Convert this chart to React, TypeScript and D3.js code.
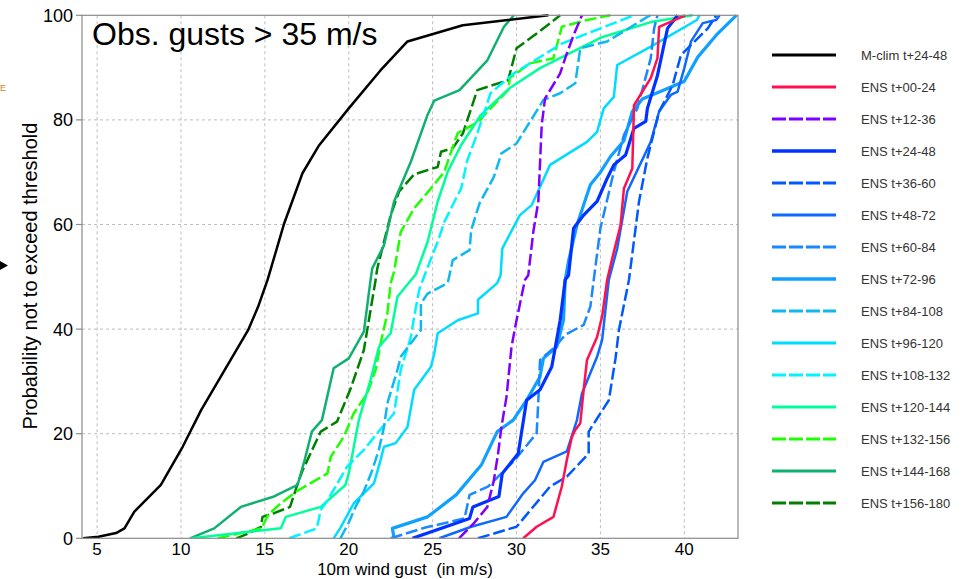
import React from "react";
import * as d3 from "d3";

type Pt = [number, number];

const xTicks = [5, 10, 15, 20, 25, 30, 35, 40];
const yTicks = [0, 20, 40, 60, 80, 100];

const mclim: Pt[] = [[4.17,0],[5.08,0.3],[6.13,1],[6.63,1.9],[7.22,5.1],[8.8,10.2],[10.1,17.5],[11.2,24.5],[14.0,39.8],[14.6,44.3],[15.16,49.4],[16.15,60.2],[17.24,69.8],[18.2,75],[20.0,82.2],[21.9,89.5],[23.5,95],[26.8,98.1],[31.9,100]];
const ens00_24: Pt[] = [[30.4,0],[31.2,2.2],[32.2,4.1],[32.7,9.9],[33.0,15],[33.3,19.4],[33.5,20.7],[33.8,22],[34.0,28.4],[34.2,34.1],[34.8,38.5],[35.1,42.4],[35.4,49.4],[35.8,54.8],[36.2,59.9],[36.4,66.9],[36.9,70.7],[37.0,82.8],[38.0,88],[38.4,91.8],[38.5,97.8],[39.0,98.5],[40.06,100]];
const ens12_36: Pt[] = [[26.57,0],[27.46,2.9],[28.26,6],[28.65,11.1],[28.9,16.2],[29.1,21.3],[29.4,27],[29.7,36.6],[30.0,41.7],[30.5,49.4],[30.7,50.3],[31.0,58.6],[31.3,64.4],[31.5,79],[31.7,84.1],[32.6,88.9],[32.9,91.8],[33.4,96.2],[33.9,100]];
const ens24_48: Pt[] = [[23.8,0],[27.2,3.8],[27.4,6],[28.95,8],[29.15,12.4],[30.1,16.2],[30.6,26.4],[31.4,28.4],[32.1,32.8],[32.6,41.7],[32.9,49.4],[33.1,50.3],[33.4,59.3],[34.0,61.8],[34.8,64.4],[35.4,68.8],[35.8,71.4],[36.5,73.3],[37.0,78.4],[37.7,79.7],[37.8,82.2],[38.4,88.5],[39.0,97.5],[39.6,100]];
const ens36_60: Pt[] = [[27.7,0],[30.0,2.2],[32.0,9.9],[33.0,11.8],[34.3,16.2],[34.3,20.4],[35.5,26.4],[35.9,34.4],[36.1,39.8],[36.7,49.4],[37.3,64.4],[37.8,72.7],[38.5,81.6],[39.3,86.6],[39.8,92.4],[41.4,97.5],[41.9,100]];
const ens48_72: Pt[] = [[25.4,0],[27.3,2.2],[29.4,4.1],[30.4,8.6],[31.1,11.1],[31.6,14.6],[33.0,16.6],[33.6,22.6],[33.9,27.7],[34.8,34.7],[35.1,37.9],[35.5,49.4],[36.0,55.4],[36.6,66.3],[38.0,75.8],[38.5,81.6],[39.2,84.8],[39.6,85.4],[40.0,89.9],[40.4,95],[41.1,98.5],[41.9,99.1],[42.1,100]];
const ens60_84: Pt[] = [[22.5,0],[24.5,2],[26.9,3.8],[27.2,8.3],[28.3,9.9],[29.8,14.6],[31.2,20.1],[31.3,26.4],[31.4,34.1],[32.3,36.6],[32.9,38.9],[34.0,40.8],[34.4,44.3],[34.6,49.4],[35.0,59.3],[35.8,70.1],[36.4,77.1],[37.2,82.2],[38.0,91.8],[38.2,97.5],[38.4,100]];
const ens72_96: Pt[] = [[22.7,0],[22.6,1.9],[24.7,4.1],[26.4,8.3],[27.9,14],[28.85,20.4],[29.8,22.6],[30.6,26.4],[31.4,30.9],[31.6,34.4],[32.4,36.6],[32.8,41.7],[32.9,49.4],[33.1,53],[33.6,59.9],[34.4,67.6],[35.0,70],[35.6,73],[36.4,76],[36.9,81.6],[37.5,84],[39.0,86],[40.0,87.4],[40.8,92],[41.9,96.2],[43.1,100]];
const ens84_108: Pt[] = [[19.5,0],[20.0,3],[20.4,6],[20.9,9],[21.4,13],[21.8,17],[22.1,21.3],[22.3,25.8],[22.9,32.2],[23.1,34.7],[23.7,37.3],[24.3,39.8],[24.3,44.9],[24.7,46.8],[25.9,48.8],[26.2,53.2],[27.2,55.1],[27.3,59],[27.8,64.1],[28.65,69.1],[29.1,73.6],[30.0,75.5],[31.6,83.8],[32.6,85.1],[33.5,87],[33.8,93.7],[35.4,95],[37.8,99.7],[38.0,100]];
const ens96_120: Pt[] = [[19.1,0],[19.5,2],[20.3,6.7],[21.5,10.5],[21.9,15],[22.1,17.5],[22.8,18.2],[23.5,21.3],[23.9,28.4],[24.9,32.8],[25.1,35.4],[25.3,39.2],[26.5,41.7],[27.7,43],[27.7,45.6],[28.85,48.8],[29.05,50.3],[29.15,55.4],[30.2,61.8],[30.9,63.7],[32.0,71.4],[34.2,75.8],[34.8,77.7],[35.2,82.2],[35.8,84.4],[36.0,90.5],[38.0,94],[40.75,99.1],[40.9,100]];
const ens108_132: Pt[] = [[16.45,0],[18.1,1.9],[18.33,5.4],[18.8,7.6],[19.9,13.7],[20.9,16.9],[21.7,20.1],[22.7,23.9],[23.1,32.2],[23.7,38.5],[23.9,42.4],[24.2,47.5],[24.6,51],[25.3,56.7],[25.7,60.5],[26.3,64.4],[26.7,66.9],[27.06,72.2],[27.66,77.4],[28.45,85.1],[29.84,88.9],[32.7,94.6],[34.2,96.5],[37,100]];
const ens120_144: Pt[] = [[10.6,0],[15.95,1.9],[16.25,4.1],[18.33,6],[19.8,10.2],[20.0,12.4],[20.6,22.6],[21.3,30.3],[21.8,36.6],[22.5,39.2],[22.9,46.2],[24.0,50.5],[24.7,56.7],[25.3,64.4],[25.9,70.1],[26.7,75.2],[27.86,80.9],[29.6,86.1],[31.4,89.9],[35,95.7],[38,98.7],[40.5,100]];
const ens132_156: Pt[] = [[12.2,0],[14.8,1.9],[15.2,4.5],[15.95,6.7],[16.85,8.9],[18.73,12.4],[18.93,15.6],[19.7,19.4],[20.3,23.9],[21.1,27.7],[21.6,32.2],[21.9,37.3],[22.3,43],[22.5,48.8],[22.7,51],[23.1,58.6],[23.9,63.1],[24.9,66.9],[25.7,70.1],[26.3,75.8],[26.5,77.5],[27.76,79.7],[28.26,81.6],[29.5,85.7],[29.6,88],[30.8,90.8],[32.2,91.8],[32.7,97.8],[34.2,99.1],[35.6,100]];
const ens144_168: Pt[] = [[10.54,0],[11.98,1.9],[13.57,6.0],[15.55,8.0],[16.95,10.2],[17.34,14.6],[17.8,20.4],[18.4,22.6],[19.1,32.5],[20.0,34.4],[20.9,39.5],[21.3,49.4],[21.4,51.6],[22.1,56],[22.7,64.4],[23.7,72],[24.7,81],[25.1,83.7],[26.6,85.7],[28.26,91.4],[29.25,97.8],[29.84,100]];
const ens156_180: Pt[] = [[13.3,0],[14.07,1],[14.76,2.2],[14.86,4.1],[15.55,4.8],[16.5,6],[16.96,10.5],[17.25,13],[18.33,20.4],[19.3,22.3],[20.12,28.7],[20.9,36],[21.6,49.4],[21.7,51.6],[22.5,61.8],[23.0,66.3],[23.9,69.6],[25.3,71],[25.5,73.9],[26.2,74.6],[26.8,77.4],[27.66,85.7],[29.5,87.6],[30.0,93.7],[31.2,96.5],[32.6,100]];

const seriesNames = ["M-clim t+24-48","ENS t+00-24","ENS t+12-36","ENS t+24-48","ENS t+36-60","ENS t+48-72","ENS t+60-84","ENS t+72-96","ENS t+84-108","ENS t+96-120","ENS t+108-132","ENS t+120-144","ENS t+132-156","ENS t+144-168","ENS t+156-180"];
const seriesData = [mclim, ens00_24, ens12_36, ens24_48, ens36_60, ens48_72, ens60_84, ens72_96, ens84_108, ens96_120, ens108_132, ens120_144, ens132_156, ens144_168, ens156_180];
const seriesColors = ["#000000","#ff1050","#8000ff","#0033ff","#0058ff","#1068ff","#1a88ff","#10a0ff","#10b8f0","#00dcff","#00f4ff","#00ff9a","#1eff00","#10b070","#008000"];
const seriesDashed = [false,false,true,false,true,false,true,false,true,false,true,false,true,false,true];
const seriesWidths = [2.5,2.5,2.5,3.2,2.5,2.5,2.5,3.2,2.5,2.5,2.5,2.5,2.5,2.5,2.5];

const W = 969, H = 579;
const L = 82, R = 738, T = 15.3, B = 538.3;
const FONT = "'Liberation Sans', Arial, Helvetica, sans-serif";

export default function App() {
  const x = d3.scaleLinear().domain([4.1, 43.2]).range([L, R]);
  const y = d3.scaleLinear().domain([0, 100]).range([B, T]);
  const line = d3.line<Pt>().x(d => x(d[0])).y(d => y(d[1])).curve(d3.curveLinear);
  const legendY = d3.scaleLinear().domain([0, 14]).range([55, 503]);

  const order = d3.range(seriesData.length).reverse();

  return (
    <svg width={W} height={H} style={{ position: "absolute", left: 0, top: 0, background: "#fff" }} fontFamily={FONT}>
      <defs>
        <clipPath id="plotClip">
          <rect x={L} y={T - 2} width={R - L} height={B - T + 2} />
        </clipPath>
      </defs>
      <rect x={0} y={0} width={W} height={H} fill="#fff" />
      {/* fragments at far left */}
      <text x={0} y={91} fontSize={9} fill="#c08830">E</text>
      <polygon points="0,261 8,265.5 0,270" fill="#000" />

      {/* grid */}
      {xTicks.map(t => (
        <line key={"gx" + t} x1={x(t)} x2={x(t)} y1={T} y2={B} stroke="#bdbdbd" strokeWidth={1} strokeDasharray="3,3" />
      ))}
      {yTicks.filter(t => t > 0 && t < 100).map(t => (
        <line key={"gy" + t} x1={L} x2={R} y1={y(t)} y2={y(t)} stroke="#bdbdbd" strokeWidth={1} strokeDasharray="3,3" />
      ))}

      {/* series */}
      <g clipPath="url(#plotClip)">
        {order.map(i => (
          <path key={"s" + i} d={line(seriesData[i]) || ""} fill="none" stroke={seriesColors[i]}
            strokeWidth={seriesWidths[i]} strokeDasharray={seriesDashed[i] ? "12,4" : undefined}
            strokeLinejoin="round" />
        ))}
      </g>

      {/* frame */}
      <rect x={L} y={T} width={R - L} height={B - T} fill="none" stroke="#8a8a8a" strokeWidth={1.2} />

      {/* y ticks */}
      {yTicks.map(t => (
        <g key={"yt" + t}>
          <line x1={L - 6} x2={L} y1={y(t)} y2={y(t)} stroke="#8a8a8a" strokeWidth={1.2} />
          <text x={73} y={y(t) + 6.5} textAnchor="end" fontSize={18} fill="#000">{t}</text>
        </g>
      ))}
      {/* x tick labels */}
      {xTicks.map(t => (
        <text key={"xt" + t} x={x(t)} y={555} textAnchor="middle" fontSize={17} fill="#000">{t}</text>
      ))}

      {/* axis titles */}
      <text x={405} y={574.5} textAnchor="middle" fontSize={17} fill="#000" style={{ whiteSpace: "pre" }}>{"10m wind gust  (in m/s)"}</text>
      <text transform="translate(37,276) rotate(-90)" textAnchor="middle" fontSize={20} fill="#000">Probability not to exceed threshold</text>

      {/* title */}
      <text x={92} y={45} fontSize={32} fill="#000">Obs. gusts &gt; 35 m/s</text>

      {/* legend */}
      {seriesNames.map((n, i) => (
        <g key={"lg" + i}>
          <line x1={772} x2={836} y1={legendY(i)} y2={legendY(i)} stroke={seriesColors[i]}
            strokeWidth={i === 3 || i === 7 ? 3.5 : 3} strokeDasharray={seriesDashed[i] ? "14,3" : undefined} />
          <text x={861} y={legendY(i) + 4.5} fontSize={13} fill="#333">{n}</text>
        </g>
      ))}
    </svg>
  );
}
